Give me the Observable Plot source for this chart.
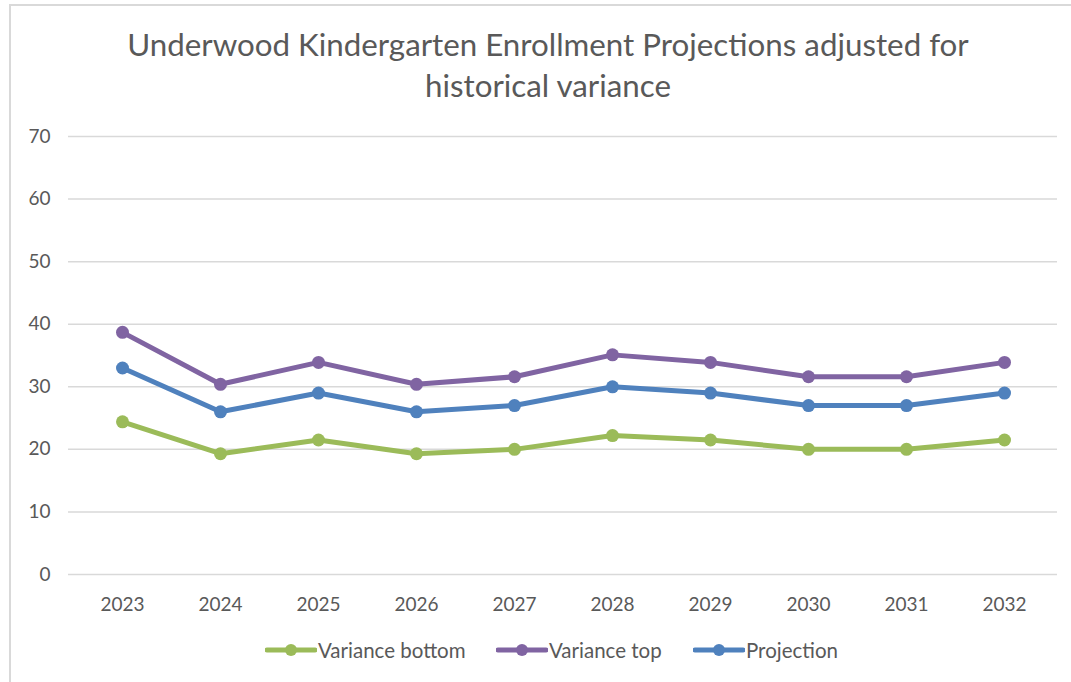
<!DOCTYPE html>
<html>
<head>
<meta charset="utf-8">
<script src="https://cdn.jsdelivr.net/npm/d3@7"></script>
<script src="https://cdn.jsdelivr.net/npm/@observablehq/plot@0.6"></script>
<style>
  html, body { margin: 0; padding: 0; background: #fff; }
  #wrap { position: relative; width: 1071px; height: 682px; overflow: hidden; background: #fff; font-family: Lato, "Open Sans", sans-serif; }
  #frame { position: absolute; left: 9px; top: 4px; right: -5px; bottom: -5px; border-top: 2px solid #d9d9d9; border-left: 2px solid #d9d9d9; }
  #title { position: absolute; left: 0; top: 24px; width: 1096px; text-align: center; color: #595959; font-size: 31.3px; line-height: 41px; }
  #chart { position: absolute; left: 0; top: 120px; }
  #legend { position: absolute; top: 638px; left: 0; width: 1071px; height: 24px; }
  .item { position: absolute; top: 0; display: flex; align-items: center; height: 24px; color: #595959; font-size: 20.5px; }
  .item svg { margin-right: 1px; }
</style>
</head>
<body>
<div id="wrap">
  <div id="frame"></div>
  <div id="title">Underwood Kindergarten Enrollment Projections adjusted for<br>historical variance</div>
  <div id="chart"></div>
  <div id="legend"></div>
</div>
<script>
const years = ["2023","2024","2025","2026","2027","2028","2029","2030","2031","2032"];
const varianceBottom = [24.4, 19.3, 21.5, 19.3, 20.0, 22.2, 21.5, 20.0, 20.0, 21.5];
const varianceTop = [38.7, 30.4, 33.9, 30.4, 31.6, 35.1, 33.9, 31.6, 31.6, 33.9];
const projection = [33, 26, 29, 26, 27, 30, 29, 27, 27, 29];
const yTicks = [0, 10, 20, 30, 40, 50, 60, 70];

const seriesNames = ["Variance bottom", "Variance top", "Projection"];
const seriesValues = [varianceBottom, varianceTop, projection];
const colors = ["#9bbb59", "#8064a2", "#4f81bd"];

const data = [];
seriesNames.forEach((s, i) => years.forEach((yr, j) => data.push({series: s, year: yr, value: seriesValues[i][j]})));

const chart = Plot.plot({
  width: 1071,
  height: 500,
  marginTop: 16,
  marginBottom: 46,
  marginLeft: 68,
  marginRight: 14,
  style: {fontFamily: "Lato, 'Open Sans', sans-serif", fontSize: "19px", color: "#595959", background: "transparent"},
  x: {type: "point", domain: years, padding: 0.5, label: null},
  y: {domain: [0, 70], ticks: yTicks, label: null},
  color: {domain: seriesNames, range: colors},
  marks: [
    Plot.ruleY(yTicks, {stroke: "#d9d9d9", strokeWidth: 1.5}),
    Plot.axisY(yTicks, {tickSize: 0, tickPadding: 18, label: null, fill: "#595959"}),
    Plot.axisX(years, {tickSize: 0, tickPadding: 23, label: null, fill: "#595959"}),
    Plot.line(data, {x: "year", y: "value", z: "series", stroke: "series", strokeWidth: 5, strokeLinejoin: "round"}),
    Plot.dot(data, {x: "year", y: "value", fill: "series", r: 6.5})
  ]
});
document.getElementById("chart").appendChild(chart);

const legend = document.getElementById("legend");
const lefts = [265, 496, 693];
seriesNames.forEach((s, i) => {
  const d = document.createElement("div");
  d.className = "item";
  d.style.left = lefts[i] + "px";
  d.innerHTML = `<svg width="52" height="14"><line x1="2" y1="7" x2="50" y2="7" stroke="${colors[i]}" stroke-width="5" stroke-linecap="round"/><circle cx="26" cy="7" r="6" fill="${colors[i]}"/></svg><span>${s}</span>`;
  legend.appendChild(d);
});
</script>
</body>
</html>
